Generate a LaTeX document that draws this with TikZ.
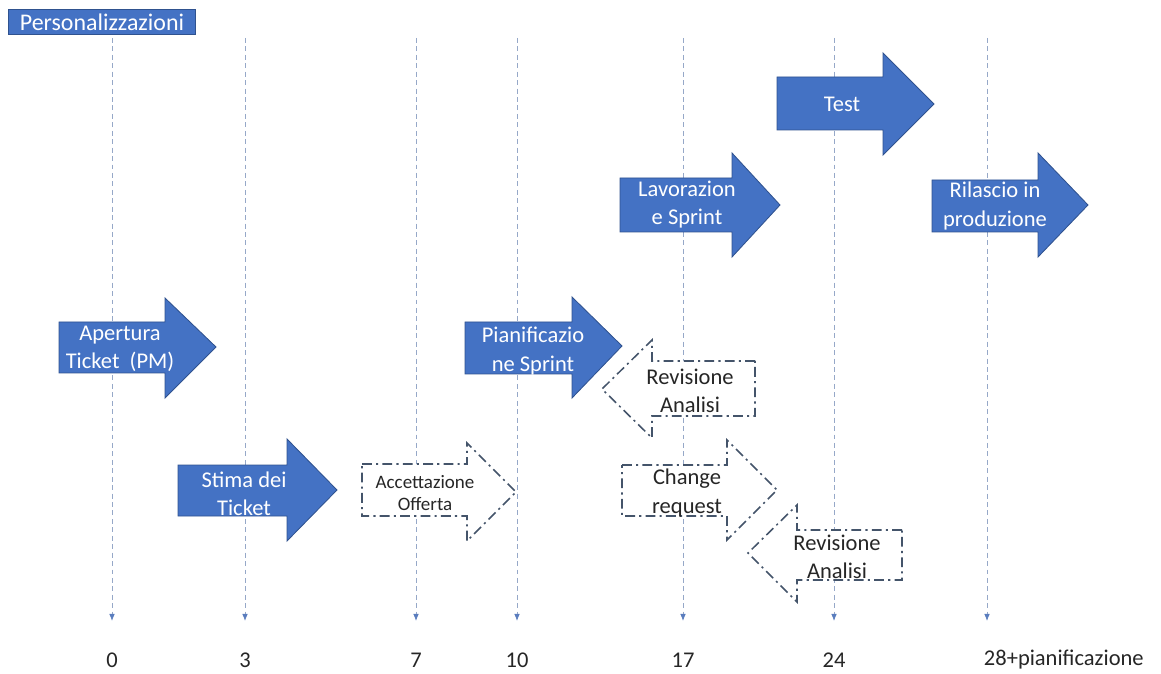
\documentclass[tikz,border=0pt]{standalone}
\usepackage{fontspec}
\setmainfont{Carlito}
\usepackage{tikz}
\usetikzlibrary{arrows.meta}

\definecolor{phaseblue}{RGB}{68,114,196}
\definecolor{phaseedge}{RGB}{47,82,143}
\definecolor{optedge}{RGB}{68,84,106}
\definecolor{gridline}{RGB}{150,168,200}
\definecolor{gridtip}{RGB}{90,125,190}

\tikzset{
  phase/.style={fill=phaseblue, draw=phaseedge, line width=0.6pt},
  optional/.style={fill=white, draw=optedge, line width=1.1pt, dash pattern=on 7pt off 3pt on 1.5pt off 3pt},
  phasetext/.style={text=white, align=center, inner sep=0pt, font=\fontsize{16}{20}\selectfont},
  opttext/.style={text=black!85, align=center, inner sep=0pt, font=\fontsize{16}{20}\selectfont},
  timeline/.style={draw=gridline, line width=0.6pt, dash pattern=on 3.5pt off 2.5pt, -{Latex[length=5pt,width=4pt,color=gridtip]}},
  daylabel/.style={text=black!85, font=\fontsize{16}{20}\selectfont}
}

\begin{document}
\begin{tikzpicture}[x=0.025cm, y=-0.025cm]
\useasboundingbox (0,0) rectangle (1161,674);

% Vertical dashed lines, one for each day
\foreach \x/\d in {112/0, 245/3, 416/7, 517/10, 683/17, 834/24, 987/28} {
  \coordinate (top\d) at (\x,38);
  \coordinate (bot\d) at (\x,621);
  \draw[timeline] (top\d) -- (bot\d);
}

% Day numbers under the lines
\foreach \d in {0,3,7,10,17,24} {
  \path (bot\d) ++(0,39) node[daylabel] (day\d) {\d};
}
\node[daylabel, anchor=west] (day28) at (979,660) {28+pianificazione};

% Title box top left
\node[fill=phaseblue, draw=phaseedge, text=white, inner sep=0pt, minimum width=4.675cm, minimum height=0.625cm, font=\fontsize{17}{20}\selectfont] (title) at (102,22) {Personalizzazioni};

% Apertura Ticket (PM)
\draw[phase] (59,322) -- (165,322) -- (165,298) -- (216,347) -- (165,398) -- (165,373) -- (59,373) -- cycle;
\node[phasetext] (apertura) at (120,349) {Apertura\\Ticket\ \ (PM)};

% Stima dei Ticket
\draw[phase] (178,465) -- (287,465) -- (287,439) -- (337,490) -- (287,541) -- (287,516) -- (178,516) -- cycle;
\node[phasetext] (stima) at (244,494) {Stima dei\\Ticket};

% Accettazione Offerta (dash-dotted outline)
\draw[optional] (362,464) -- (467,464) -- (467,443) -- (516,492) -- (467,541) -- (467,516) -- (362,516) -- cycle;
\node[opttext, font=\fontsize{13.5}{15.5}\selectfont] (accettazione) at (425,493) {Accettazione\\Offerta};

% Pianificazione Sprint
\draw[phase] (465,322) -- (572,322) -- (572,297) -- (622,346) -- (572,398) -- (572,374) -- (465,374) -- cycle;
\node[phasetext] (pianificazione) at (533,351) {Pianificazio\\ne Sprint};

% Revisione Analisi, pointing back
\draw[optional] (755,361) -- (652,361) -- (652,340) -- (602,389) -- (652,438) -- (652,416) -- (755,416) -- cycle;
\node[opttext] (revisione1) at (690,391) {Revisione\\Analisi};

% Lavorazione Sprint
\draw[phase] (620,178) -- (732,178) -- (732,153) -- (780,205) -- (732,257) -- (732,232) -- (620,232) -- cycle;
\node[phasetext] (lavorazione) at (687,205) {Lavorazion\\e Sprint};

% Test
\draw[phase] (777,77) -- (883,77) -- (883,53) -- (934,104) -- (883,155) -- (883,130) -- (777,130) -- cycle;
\node[phasetext] (test) at (842,104) {Test};

% Change request (dash-dotted outline)
\draw[optional] (622,465) -- (727,465) -- (727,440) -- (777,490) -- (727,540) -- (727,516) -- (622,516) -- cycle;
\node[opttext] (change) at (687,493) {Change\\request};

% Second Revisione Analisi, pointing back
\draw[optional] (902,530) -- (797,530) -- (797,505) -- (748,553) -- (797,602) -- (797,580) -- (902,580) -- cycle;
\node[opttext] (revisione2) at (837,557) {Revisione\\Analisi};

% Rilascio in produzione
\draw[phase] (932,180) -- (1038,180) -- (1038,153) -- (1088,205) -- (1038,257) -- (1038,232) -- (932,232) -- cycle;
\node[phasetext] (rilascio) at (995,206) {Rilascio in\\produzione};

\end{tikzpicture}
\end{document}
